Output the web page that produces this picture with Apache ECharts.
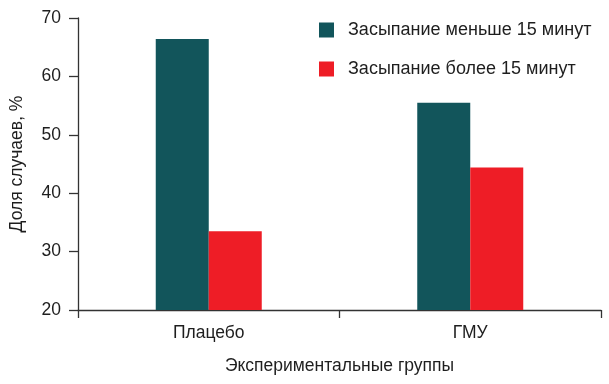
<!DOCTYPE html>
<html><head><meta charset="utf-8">
<script src="https://cdn.jsdelivr.net/npm/echarts@6/dist/echarts.min.js"></script>
<style>html,body{margin:0;padding:0;background:#fff}#c{width:609px;height:384px}</style>
</head><body><div id="c"></div>
<script>
var categories = ['Плацебо', 'ГМУ'];
var seriesNames = ['Засыпание меньше 15 минут', 'Засыпание более 15 минут'];
var lessThan15 = [66.4, 55.5];
var moreThan15 = [33.5, 44.4];
var yTicks = [20, 30, 40, 50, 60, 70];

var chart = echarts.init(document.getElementById('c'), null, {renderer: 'canvas'});
var font = 'Liberation Sans, Arial, sans-serif';
var txt = '#1e1e1e';
chart.setOption({
  animation: false,
  textStyle: {fontFamily: font},
  grid: {left: 77, right: 8, top: 18, bottom: 74, containLabel: false},
  legend: {
    orient: 'vertical', left: 319, top: 21, padding: 0, itemWidth: 15, itemHeight: 15, itemGap: 21,
    icon: 'rect',
    textStyle: {fontSize: 18, lineHeight: 15, color: txt, fontFamily: font, padding: [0, 0, 0, 9]},
    data: seriesNames
  },
  xAxis: {
    type: 'category', data: categories,
    axisLine: {lineStyle: {color: '#333', width: 1.3}},
    axisTick: {show: true, alignWithLabel: false, length: 8, lineStyle: {color: '#333', width: 1.3}},
    axisLabel: {fontSize: 17.5, color: txt, margin: 14, fontFamily: font},
    name: 'Экспериментальные группы', nameLocation: 'middle', nameGap: 47,
    nameTextStyle: {fontSize: 17.5, color: txt, fontFamily: font}
  },
  yAxis: {
    type: 'value', min: yTicks[0], max: yTicks[yTicks.length - 1], interval: 10,
    axisLine: {show: true, lineStyle: {color: '#333', width: 1.3}},
    axisTick: {show: true, length: 9, lineStyle: {color: '#333', width: 1.3}},
    splitLine: {show: false},
    axisLabel: {fontSize: 17.5, color: txt, margin: 17, fontFamily: font},
    name: 'Доля случаев, %', nameLocation: 'middle', nameGap: 52, nameRotate: 90,
    nameTextStyle: {fontSize: 17.5, color: txt, fontFamily: font}
  },
  series: [
    {name: seriesNames[0], type: 'bar', data: lessThan15, barWidth: 53, barGap: '0%',
     itemStyle: {color: '#12555b'}},
    {name: seriesNames[1], type: 'bar', data: moreThan15, barWidth: 53, barGap: '0%',
     itemStyle: {color: '#ee1d26'}}
  ]
});
</script></body></html>
